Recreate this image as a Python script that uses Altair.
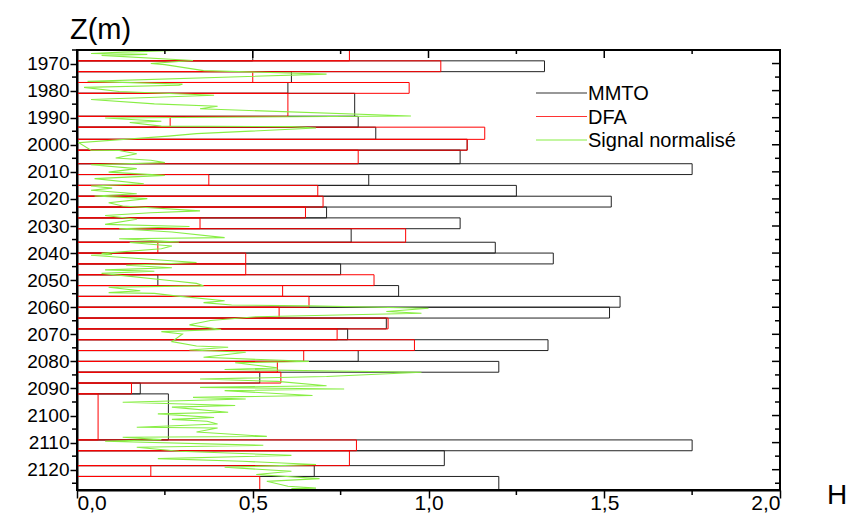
import altair as alt
import pandas as pd

# depth window boundaries (m) shared by MMTO and DFA estimates
bounds = [1965, 1969, 1973, 1977, 1981, 1989.5, 1993.5, 1998, 2002, 2007, 2011,
          2015, 2019, 2023, 2027, 2031, 2036, 2040, 2044, 2048, 2052, 2056, 2060,
          2064, 2068, 2072, 2076, 2080, 2084, 2088, 2092, 2109, 2113, 2118.5,
          2122.5, 2127.5]
mmto = [0.50, 1.33, 0.61, 0.60, 0.79, 0.80, 0.85, 1.11, 1.09, 1.75, 0.83, 1.25,
        1.52, 0.71, 1.09, 0.78, 1.19, 1.355, 0.75, 0.23, 0.915, 1.545, 1.515,
        0.88, 0.77, 1.34, 0.80, 1.20, 0.52, 0.18, 0.26, 1.75, 1.045, 0.675, 1.20]
dfa = [0.775, 1.035, 0.50, 0.945, 0.60, 0.265, 1.16, 1.11, 0.80, 0.0, 0.375,
       0.685, 0.70, 0.65, 0.35, 0.935, 0.23, 0.48, 0.48, 0.845, 0.585, 0.66,
       0.575, 0.885, 0.74, 0.96, 0.645, 0.57, 0.58, 0.155, 0.06, 0.795, 0.775,
       0.21, 0.52]

# normalised signal (depth, value)
sig_z = [1965.2, 1965.8, 1966.3, 1966.6, 1967.0, 1968.9, 1970.0, 1970.4, 1972.6,
         1973.9, 1976.6, 1977.6, 1978.0, 1978.8, 1980.3, 1981.7, 1983.3, 1984.9,
         1985.8, 1986.7, 1989.4, 1990.1, 1991.3, 1991.8, 1993.1, 1993.3, 1993.8,
         1995.9, 1996.8, 1999.2, 2002.0, 2002.1, 2003.3, 2004.9, 2005.7, 2006.6,
         2007.4, 2008.8, 2010.1, 2011.3, 2012.5, 2014.4, 2015.2, 2016.0, 2016.8,
         2018.1, 2018.9, 2019.9, 2021.4, 2022.6, 2024.4, 2025.1, 2026.1, 2027.5,
         2029.4, 2030.2, 2031.0, 2032.2, 2034.3, 2034.7, 2035.9, 2036.1, 2037.4,
         2038.4, 2040.1, 2040.5, 2040.8, 2043.5, 2044.5, 2045.4, 2046.2, 2046.7,
         2047.5, 2050.2, 2051.2, 2052.1, 2052.6, 2053.9, 2054.6, 2054.9, 2055.8,
         2057.6, 2058.3, 2059.2, 2059.5, 2060.4, 2061.6, 2062.2, 2063.5, 2064.9,
         2066.5, 2068.2, 2069.0, 2069.9, 2072.7, 2074.3, 2074.8, 2075.8, 2076.6,
         2078.5, 2080.0, 2080.5, 2082.4, 2083.0, 2084.0, 2085.6, 2086.5, 2087.4,
         2089.0, 2089.6, 2090.2, 2090.8, 2092.6, 2093.3, 2093.9, 2095.1, 2096.3,
         2096.9, 2098.8, 2099.4, 2100.7, 2101.4, 2102.1, 2103.1, 2104.3, 2104.6,
         2106.1, 2107.7, 2108.0, 2108.9, 2109.5, 2111.0, 2111.7, 2113.2, 2114.7,
         2115.9, 2116.9, 2118.1, 2119.1, 2120.6, 2121.8, 2123.3, 2124.3, 2126.1,
         2126.8, 2127.0]
sig_h = [0.28, 0.13, 0.04, 0.20, 0.07, 0.33, 0.21, 0.25, 0.36,
         0.71, 0.03, 0.30, 0.29, 0.02, 0.12, 0.39, 0.04, 0.22,
         0.40, 0.35, 0.95, 0.08, 0.24, 0.15, 0.24, 0.61, 0.68,
         0.34, 0.26, 0.005, 0.04, 0.12, 0.17, 0.11, 0.21, 0.25,
         0.04, 0.17, 0.09, 0.25, 0.05, 0.19, 0.04, 0.10, 0.04,
         0.17, 0.05, 0.20, 0.09, 0.13, 0.35, 0.21, 0.08, 0.17,
         0.08, 0.32, 0.12, 0.27, 0.42, 0.12, 0.29, 0.15, 0.27,
         0.24, 0.07, 0.10, 0.04, 0.34, 0.14, 0.27, 0.08, 0.22,
         0.07, 0.27, 0.34, 0.36, 0.09, 0.18, 0.09, 0.22, 0.28,
         0.42, 0.36, 0.44, 0.66, 1.00, 0.88, 0.98, 0.51, 0.38,
         0.32, 0.41, 0.24, 0.30, 0.27, 0.34, 0.43, 0.32, 0.48,
         0.36, 0.66, 0.45, 0.57, 0.42, 0.98, 0.71, 0.35, 0.57,
         0.71, 0.35, 0.76, 0.42, 0.67, 0.33, 0.48, 0.13, 0.45,
         0.27, 0.43, 0.23, 0.39, 0.27, 0.37, 0.40, 0.17, 0.40,
         0.34, 0.54, 0.13, 0.24, 0.08, 0.53, 0.17, 0.29, 0.61,
         0.23, 0.47, 0.68, 0.42, 0.61, 0.51, 0.69, 0.54, 0.60,
         0.68, 0.61]

y_major = list(range(1970, 2121, 10))
y_minor = list(range(1965, 2126, 10))
x_major = [0.0, 0.5, 1.0, 1.5, 2.0]
x_minor = [0.25, 0.75, 1.25, 1.75]

legend_names = ["MMTO", "DFA", "Signal normalisé"]
legend_colors = ["#333333", "#ff3333", "#88ee44"]

W, H = 703, 440
FONT = "Liberation Sans"

rows = pd.DataFrame({"top": bounds[:-1], "bot": bounds[1:], "mmto": mmto, "dfa": dfa})
rows["zero"] = 0.0
sig = pd.DataFrame({"z": sig_z, "h": sig_h, "i": list(range(len(sig_z)))})

xs = alt.Scale(domain=[0, 2], nice=False, zero=False)
ys = alt.Scale(domain=[1965, 2127.5], reverse=True, nice=False, zero=False)

x_axis = alt.Axis(values=x_major, title=None, grid=False, tickSize=8, tickWidth=1.5,
                  tickColor="black", domainColor="black", domainWidth=2,
                  labelFont=FONT, labelFontSize=21, labelColor="black", labelPadding=-6,
                  labelExpr="replace(format(datum.value, '.1f'), '.', ',')")
y_axis = alt.Axis(values=y_major, title=None, grid=False, tickSize=7, tickWidth=1.5,
                  tickColor="black", domainColor="black", domainWidth=2,
                  labelFont=FONT, labelFontSize=19, labelColor="black", labelPadding=1,
                  labelExpr="format(datum.value, 'd')")


def X(field):
    return alt.X(field, scale=xs, axis=x_axis)


def Y(field):
    return alt.Y(field, scale=ys, axis=y_axis)


mm_layer = alt.Chart(rows).mark_rect(fill="transparent", stroke="#222222", strokeWidth=1).encode(
    x=X("zero:Q"), x2="mmto:Q", y=Y("top:Q"), y2="bot:Q",
)
dfa_layer = alt.Chart(rows).transform_filter("datum.dfa > 0").mark_rect(
    fill="transparent", stroke="#ff0000", strokeWidth=1).encode(
    x=X("zero:Q"), x2="dfa:Q", y=Y("top:Q"), y2="bot:Q",
)
sig_layer = alt.Chart(sig).mark_line(color="#88ee44", strokeWidth=1.1).encode(
    x=X("h:Q"), y=Y("z:Q"), order="i:Q",
)


def tick_rules(vals, kind, a, b):
    df = pd.DataFrame({"v": vals})
    ch = alt.Chart(df).mark_rule(color="black", strokeWidth=1.5)
    if kind == "x":
        return ch.encode(x=X("v:Q"), y=alt.value(a), y2=alt.value(b))
    return ch.encode(y=Y("v:Q"), x=alt.value(a), x2=alt.value(b))


ticks = [
    tick_rules(x_major, "x", 0, 8),
    tick_rules(x_minor, "x", 0, 4),
    tick_rules(x_minor, "x", H, H + 5),
    tick_rules(y_major, "y", W - 8, W),
    tick_rules(y_minor, "y", W - 5, W),
    tick_rules(y_minor, "y", -5, 0),
]

one = pd.DataFrame({"a": [0]})
frame = alt.Chart(one).mark_rect(fill="transparent", stroke="black", strokeWidth=2).encode(
    x=alt.value(0), x2=alt.value(W), y=alt.value(0), y2=alt.value(H))

legend_layers = []
for k, (name, col) in enumerate(zip(legend_names, legend_colors)):
    ypix = 43 + k * 23.5
    legend_layers.append(alt.Chart(one).mark_rule(strokeWidth=1.2, color=col).encode(
        x=alt.value(459), x2=alt.value(510), y=alt.value(ypix)))
    legend_layers.append(alt.Chart(one).mark_text(
        text=name, align="left", baseline="middle", font=FONT, fontSize=20,
        color="black").encode(x=alt.value(511), y=alt.value(ypix + 1)))

zlabel = alt.Chart(one).mark_text(text="Z(m)", font=FONT, fontSize=29, align="left",
                                  baseline="middle", color="black").encode(
    x=alt.value(-7), y=alt.value(-20))
hlabel = alt.Chart(one).mark_text(text="H", font=FONT, fontSize=28, align="center",
                                  baseline="middle", color="black").encode(
    x=alt.value(760), y=alt.value(446))

chart = alt.layer(mm_layer, dfa_layer, sig_layer, *ticks, frame, *legend_layers,
                  zlabel, hlabel).properties(
    width=W, height=H,
    autosize=alt.AutoSizeParams(type="none"),
    padding={"left": 69, "top": 42, "right": 66, "bottom": 23},
    background="white",
).configure_view(stroke=None)

chart.save("out.html", embed_options={"renderer": "svg", "actions": False})
